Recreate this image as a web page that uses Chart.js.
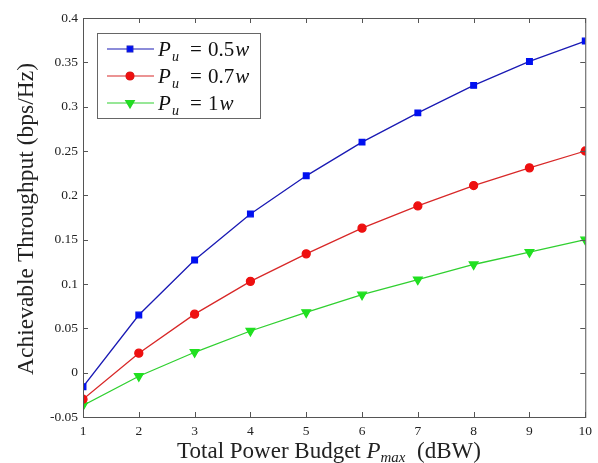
<!DOCTYPE html>
<html>
<head>
<meta charset="utf-8">
<script src="https://cdn.jsdelivr.net/npm/chart.js@4/dist/chart.umd.min.js"></script>
<style>
  html, body { margin: 0; padding: 0; background: #fff; }
  #wrap { width: 598px; height: 463px; }
</style>
</head>
<body>
<div id="wrap"><canvas id="c" width="598" height="463"></canvas></div>
<script>
const powerBudget = [1, 2, 3, 4, 5, 6, 7, 8, 9, 10];
const pu05 = [-0.016, 0.065, 0.127, 0.179, 0.222, 0.260, 0.293, 0.324, 0.351, 0.374];
const pu07 = [-0.030, 0.022, 0.066, 0.103, 0.134, 0.163, 0.188, 0.211, 0.231, 0.250];
const pu10 = [-0.037, -0.004, 0.023, 0.047, 0.068, 0.088, 0.105, 0.122, 0.136, 0.150];
const yTicks = [-0.05, 0, 0.05, 0.1, 0.15, 0.2, 0.25, 0.3, 0.35, 0.4];
const legendText = ['0.5', '0.7', '1'];

const SERIF = '"Liberation Serif", "DejaVu Serif", serif';
const AXIS = '#555';

const pts = ys => ys.map((y, i) => ({ x: powerBudget[i], y }));

// inward MATLAB-style ticks, box, axis titles and legend
const decor = {
    id: 'decor',
    afterDraw(chart) {
        const { ctx, chartArea: a, scales: { x, y } } = chart;
        ctx.save();
        ctx.strokeStyle = AXIS;
        ctx.lineWidth = 1;
        ctx.strokeRect(a.left + 0.5, a.top + 0.5, a.right - a.left, a.bottom - a.top);
        const tl = 5;
        ctx.beginPath();
        powerBudget.forEach(v => {
            const px = Math.round(x.getPixelForValue(v)) + 0.5;
            ctx.moveTo(px, a.bottom); ctx.lineTo(px, a.bottom - tl);
            ctx.moveTo(px, a.top); ctx.lineTo(px, a.top + tl);
        });
        yTicks.forEach(v => {
            const py = Math.round(y.getPixelForValue(v)) + 0.5;
            ctx.moveTo(a.left, py); ctx.lineTo(a.left + tl, py);
            ctx.moveTo(a.right, py); ctx.lineTo(a.right - tl, py);
        });
        ctx.stroke();

        // y title
        ctx.fillStyle = '#222';
        ctx.save();
        ctx.translate(33, 219);
        ctx.rotate(-Math.PI / 2);
        ctx.font = '23.5px ' + SERIF;
        ctx.textAlign = 'center';
        ctx.textBaseline = 'alphabetic';
        ctx.fillText('Achievable Throughput (bps/Hz)', 0, 0);
        ctx.restore();

        // x title with subscript
        const parts = [
            { t: 'Total Power Budget ', f: '23px ' + SERIF, dy: 0 },
            { t: 'P', f: 'italic 23px ' + SERIF, dy: 0 },
            { t: 'max', f: 'italic 15px ' + SERIF, dy: 4 },
            { t: '  (dBW)', f: '23px ' + SERIF, dy: 0 }
        ];
        let w = 0;
        parts.forEach(p => { ctx.font = p.f; w += ctx.measureText(p.t).width; });
        let cx = 329 - w / 2;
        ctx.textAlign = 'left';
        parts.forEach(p => {
            ctx.font = p.f;
            ctx.fillText(p.t, cx, 458 + p.dy);
            cx += ctx.measureText(p.t).width;
        });

        // legend
        const lx = 97, ly = 33, lw = 163, lh = 85;
        ctx.fillStyle = '#fff';
        ctx.fillRect(lx, ly, lw, lh);
        ctx.strokeStyle = '#666';
        ctx.strokeRect(lx + 0.5, ly + 0.5, lw, lh);
        chart.data.datasets.forEach((ds, i) => {
            const ry = ly + 16 + i * 27;
            ctx.strokeStyle = ds.borderColor;
            ctx.lineWidth = 1.2;
            ctx.beginPath();
            ctx.moveTo(lx + 10, ry); ctx.lineTo(lx + 57, ry);
            ctx.stroke();
            Chart.helpers.drawPoint(ctx, {
                pointStyle: ds.pointStyle, radius: ds.pointRadius,
                rotation: ds.pointRotation || 0, borderWidth: 1
            }, lx + 33, ry);
            ctx.fillStyle = ds.pointBackgroundColor;
            ctx.strokeStyle = ds.pointBackgroundColor;
            ctx.fill();
            ctx.fillStyle = '#111';
            const by = ry + 7;
            ctx.font = 'italic 21px ' + SERIF;
            ctx.fillText('P', lx + 61, by);
            ctx.font = 'italic 14px ' + SERIF;
            ctx.fillText('u', lx + 75, by + 5);
            ctx.font = '21px ' + SERIF;
            ctx.fillText('=', lx + 93, by);
            ctx.fillText(legendText[i], lx + 111, by);
            const vw = ctx.measureText(legendText[i]).width;
            ctx.font = 'italic 21px ' + SERIF;
            ctx.fillText('w', lx + 112 + vw, by);
        });
        ctx.restore();
    }
};

new Chart(document.getElementById('c'), {
    type: 'line',
    data: {
        datasets: [
            { label: 'Pu = 0.5w', data: pts(pu05), borderColor: '#1a1ab4', pointBackgroundColor: '#0010f0',
              pointBorderColor: '#0010f0', pointStyle: 'rect', pointRadius: 4, borderWidth: 1.3 },
            { label: 'Pu = 0.7w', data: pts(pu07), borderColor: '#d82828', pointBackgroundColor: '#ee1010',
              pointBorderColor: '#ee1010', pointStyle: 'circle', pointRadius: 4, borderWidth: 1.3 },
            { label: 'Pu = 1w', data: pts(pu10), borderColor: '#30d030', pointBackgroundColor: '#20e020',
              pointBorderColor: '#20e020', pointStyle: 'triangle', pointRotation: 180, pointRadius: 5, borderWidth: 1.3 }
        ]
    },
    options: {
        responsive: false,
        animation: false,
        layout: { padding: { left: 0, right: 10, top: 18, bottom: 0 } },
        plugins: { legend: { display: false }, tooltip: { enabled: false } },
        elements: { line: { tension: 0 } },
        scales: {
            x: {
                type: 'linear', min: 1, max: 10,
                afterBuildTicks: s => { s.ticks = powerBudget.map(v => ({ value: v })); },
                afterFit: s => { s.height = 46; },
                grid: { display: false, drawTicks: false },
                border: { display: false },
                ticks: { color: '#222', padding: 6, font: { family: SERIF, size: 13.5 }, maxRotation: 0 }
            },
            y: {
                type: 'linear', min: -0.05, max: 0.4,
                afterBuildTicks: s => { s.ticks = yTicks.map(v => ({ value: v })); },
                afterFit: s => { s.width = 83; },
                grid: { display: false, drawTicks: false },
                border: { display: false },
                ticks: { color: '#222', padding: 5, font: { family: SERIF, size: 13.5 },
                         callback: v => String(Math.round(v * 100) / 100) }
            }
        }
    },
    plugins: [decor]
});
</script>
</body>
</html>
